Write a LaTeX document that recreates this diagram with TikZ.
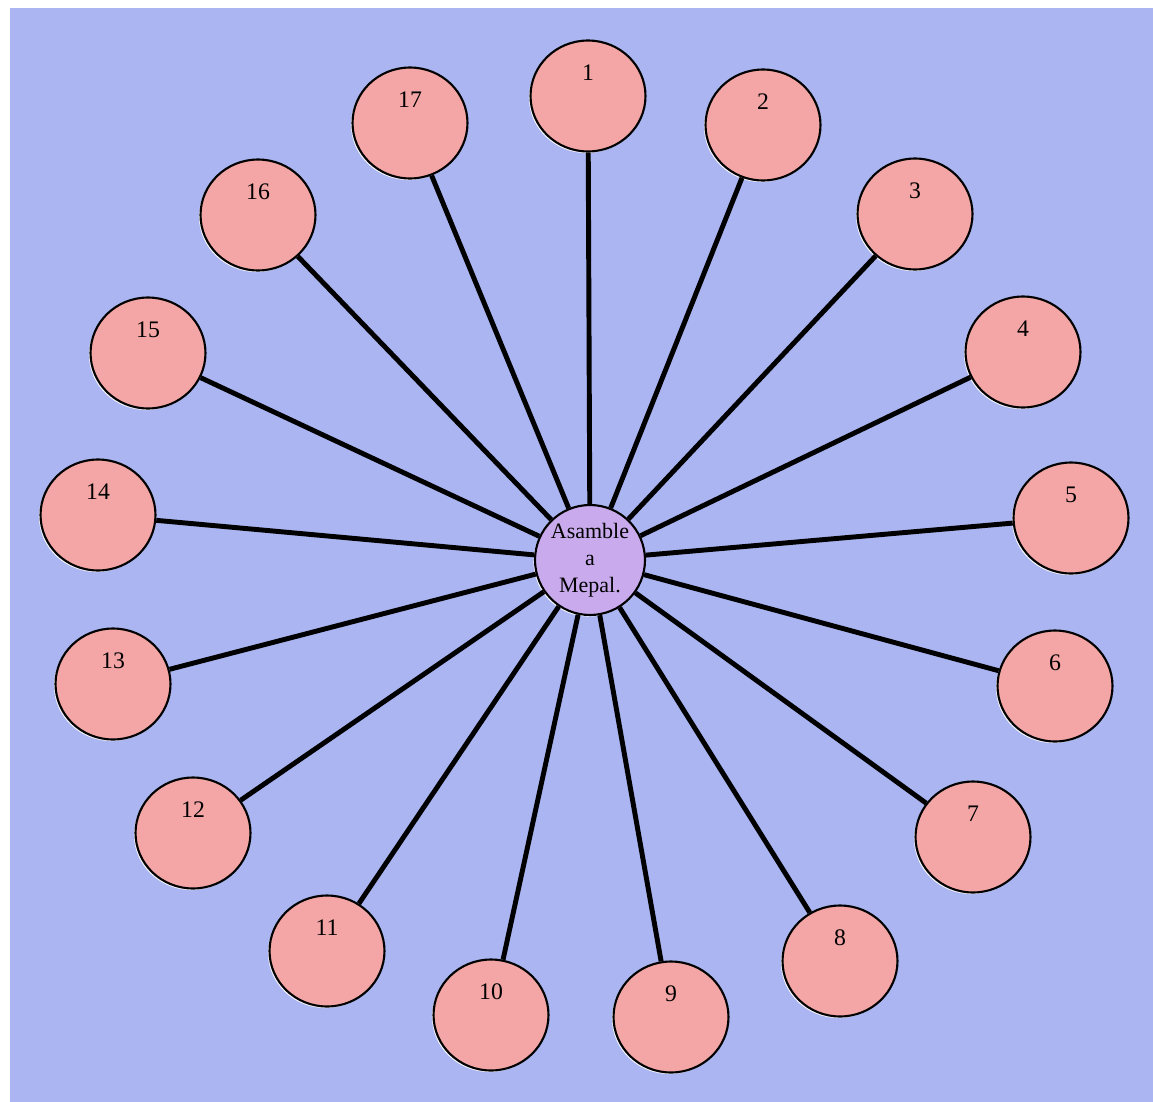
\documentclass[tikz,border=0pt]{standalone}
\usepackage{fontspec}
\setmainfont{Liberation Serif}
\usepackage{xcolor}
\usepackage{tikz}
\usetikzlibrary{shapes.geometric,shadows}
\definecolor{skyx}{HTML}{AAB5F1}
\definecolor{salmonx}{HTML}{F3A6A5}
\definecolor{lilacx}{HTML}{C9AAEC}
\tikzset{
  ball/.style={ellipse,draw=black,line width=1.2pt,fill=salmonx,minimum width=2.3cm,minimum height=2.22cm,inner sep=0pt,
    drop shadow={shadow xshift=-0.9pt,shadow yshift=-0.9pt,fill=white,opacity=0.9}},
  num/.style={font=\fontsize{13.5}{15}\selectfont,yshift=0.46cm},
  hubx/.style={circle,draw=black,line width=1.2pt,fill=lilacx,minimum size=2.2cm,inner sep=0pt,align=center,
    font=\fontsize{12.5}{15.3}\selectfont,drop shadow={shadow xshift=-0.9pt,shadow yshift=-0.9pt,fill=white,opacity=0.9}},
  spoke/.style={line width=2.8pt,black}
}
\begin{document}
\begin{tikzpicture}[x=0.02cm,y=-0.02cm]
\useasboundingbox (0,0) rectangle (1153,1102);
\fill[skyx] (10,8) rectangle (1153,1102);
% centre
\node[hubx] (hub) at (590,560) {Asamble\\a\\Mepal.};
% outer ring
\foreach \n/\x/\y in {1/588/96,2/763/125,3/915/214,4/1023/352,5/1071/518,6/1055/686,
  7/973/837,8/840/961,9/671/1017,10/491/1015,11/327/951,12/193/833,13/113/684,
  14/98/515,15/148/353,16/258/215,17/410/123}
  \node[ball,label={[num]center:\n}] (c\n) at (\x,\y) {};
\foreach \n in {1,...,17}
  \draw[spoke] (hub) -- (c\n);
\end{tikzpicture}
\end{document}
